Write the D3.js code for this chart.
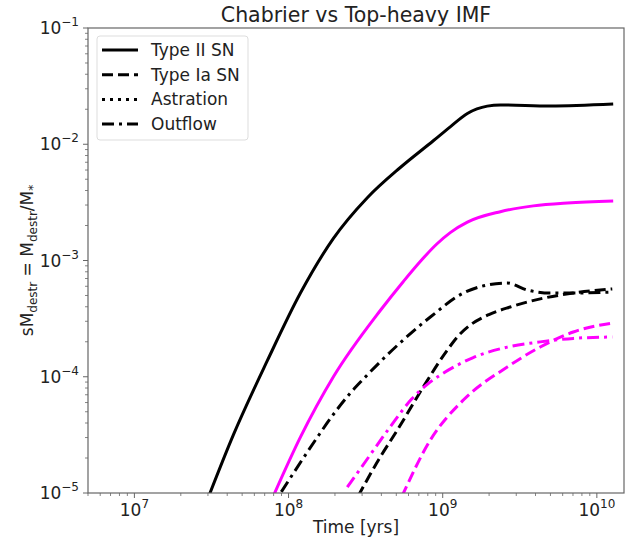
<!DOCTYPE html>
<html>
<head>
<meta charset="utf-8">
<script src="https://cdn.jsdelivr.net/npm/d3@7"></script>
<style>
  body { margin: 0; background: #fff; }
  text { font-family: "DejaVu Sans", sans-serif; fill: #222; }
</style>
</head>
<body>
<div id="chart"></div>
<script>
// Values, as log10(time in yrs) and log10(sM_destr)
const typeIIChabT = [7.47, 7.642, 7.863, 8.077, 8.291, 8.511, 8.725, 8.939, 9.049, 9.160, 9.289, 9.374, 9.698, 10.106];
const typeIIChabV = [-5.07, -4.50, -3.86, -3.28, -2.81, -2.46, -2.20, -1.97, -1.85, -1.735, -1.672, -1.662, -1.671, -1.654];

const typeIITopT = [7.90, 8.077, 8.291, 8.595, 8.745, 8.860, 8.960, 9.049, 9.160, 9.374, 9.588, 9.808, 10.106];
const typeIITopV = [-5.03, -4.52, -4.00, -3.43, -3.18, -3.00, -2.86, -2.76, -2.67, -2.58, -2.53, -2.505, -2.488];

const typeIaChabT = [8.45, 8.595, 8.706, 8.874, 9.030, 9.100, 9.179, 9.300, 9.438, 9.633, 9.847, 10.100];
const typeIaChabV = [-5.03, -4.690, -4.458, -4.088, -3.77, -3.65, -3.555, -3.465, -3.40, -3.33, -3.28, -3.245];

const typeIaTopT = [8.735, 8.920, 9.134, 9.419, 9.633, 9.847, 10.100];
const typeIaTopV = [-5.03, -4.544, -4.200, -3.916, -3.744, -3.615, -3.538];

const outflowChabT = [7.953, 8.187, 8.271, 8.401, 8.485, 8.706, 8.920, 9.134, 9.289, 9.419, 9.549, 9.698, 9.847, 10.100];
const outflowChabV = [-4.99, -4.52, -4.36, -4.14, -4.02, -3.73, -3.486, -3.280, -3.211, -3.194, -3.254, -3.280, -3.280, -3.271];

const outflowTopT = [8.381, 8.52, 8.66, 8.80, 8.90, 8.985, 9.095, 9.198, 9.419, 9.633, 9.847, 10.100];
const outflowTopV = [-4.95, -4.69, -4.43, -4.19, -4.065, -3.985, -3.90, -3.835, -3.745, -3.70, -3.67, -3.658];

const legendLabels = ["Type II SN", "Type Ia SN", "Astration", "Outflow"];
const yTickExps = [-1, -2, -3, -4, -5];
const xTickExps = [7, 8, 9, 10];

const width = 640, height = 547;
const margin = {left: 88, top: 28, right: 16, bottom: 54};
const iw = width - margin.left - margin.right;
const ih = height - margin.top - margin.bottom;

const dashes = {solid: null, dashed: "11,5", dotted: "3,5", dashdot: "12,5,3,5"};

const series = [
  {t: typeIIChabT, v: typeIIChabV, color: "#000", dash: "solid"},
  {t: typeIITopT, v: typeIITopV, color: "#ff00ff", dash: "solid"},
  {t: typeIaChabT, v: typeIaChabV, color: "#000", dash: "dashed"},
  {t: typeIaTopT, v: typeIaTopV, color: "#ff00ff", dash: "dashed"},
  {t: outflowChabT, v: outflowChabV, color: "#000", dash: "dashdot"},
  {t: outflowTopT, v: outflowTopV, color: "#ff00ff", dash: "dashdot"}
];

const x = d3.scaleLog().domain([5e6, 1.5e10]).range([0, iw]);
const y = d3.scaleLog().domain([1e-5, 1e-1]).range([ih, 0]);

const svg = d3.select("#chart").append("svg")
  .attr("width", width)
  .attr("height", height);

svg.append("defs").append("clipPath").attr("id", "clip")
  .append("rect").attr("width", iw).attr("height", ih);

const g = svg.append("g").attr("transform", `translate(${margin.left},${margin.top})`);

// lines
const line = d3.line()
  .x(d => x(d[0]))
  .y(d => y(d[1]))
  .curve(d3.curveMonotoneX);

const lines = g.append("g").attr("clip-path", "url(#clip)");
series.forEach(s => {
  const pts = s.t.map((t, i) => [Math.pow(10, t), Math.pow(10, s.v[i])]);
  lines.append("path")
    .datum(pts)
    .attr("d", line)
    .attr("fill", "none")
    .attr("stroke", s.color)
    .attr("stroke-width", 3)
    .attr("stroke-dasharray", dashes[s.dash]);
});

// frame
g.append("rect")
  .attr("width", iw).attr("height", ih)
  .attr("fill", "none").attr("stroke", "#666").attr("stroke-width", 1.2);

// ticks
const axisColor = "#666";
const isMajor = d => Math.abs(Math.log10(d) - Math.round(Math.log10(d))) < 1e-6;
const xMinor = x.ticks(20).filter(d => !isMajor(d));
const yMinor = y.ticks(20).filter(d => !isMajor(d));

g.selectAll(".xminor").data(xMinor).enter().append("line")
  .attr("x1", d => x(d)).attr("x2", d => x(d))
  .attr("y1", ih).attr("y2", ih + 3)
  .attr("stroke", axisColor).attr("stroke-width", 0.8);
g.selectAll(".yminor").data(yMinor).enter().append("line")
  .attr("x1", -3).attr("x2", 0)
  .attr("y1", d => y(d)).attr("y2", d => y(d))
  .attr("stroke", axisColor).attr("stroke-width", 0.8);

g.selectAll(".xmajor").data(xTickExps).enter().append("line")
  .attr("x1", d => x(Math.pow(10, d))).attr("x2", d => x(Math.pow(10, d)))
  .attr("y1", ih).attr("y2", ih + 5)
  .attr("stroke", axisColor).attr("stroke-width", 1);
g.selectAll(".ymajor").data(yTickExps).enter().append("line")
  .attr("x1", -5).attr("x2", 0)
  .attr("y1", d => y(Math.pow(10, d))).attr("y2", d => y(Math.pow(10, d)))
  .attr("stroke", axisColor).attr("stroke-width", 1);

// tick labels with superscripts
const xl = g.selectAll(".xlab").data(xTickExps).enter().append("text")
  .attr("x", d => x(Math.pow(10, d)))
  .attr("y", ih + 23)
  .attr("text-anchor", "middle")
  .style("font-size", "17px");
xl.append("tspan").text("10");
xl.append("tspan").attr("dy", -8).style("font-size", "12px").text(d => d);

const yl = g.selectAll(".ylab").data(yTickExps).enter().append("text")
  .attr("x", -9)
  .attr("y", d => y(Math.pow(10, d)) + 6)
  .attr("text-anchor", "end")
  .style("font-size", "17px");
yl.append("tspan").text("10");
yl.append("tspan").attr("dy", -8).style("font-size", "12px").text(d => "\u2212" + Math.abs(d));

// title and axis labels
svg.append("text")
  .attr("x", margin.left + iw / 2).attr("y", 22)
  .attr("text-anchor", "middle")
  .style("font-size", "20.5px")
  .text("Chabrier vs Top-heavy IMF");

svg.append("text")
  .attr("x", margin.left + iw / 2).attr("y", 533)
  .attr("text-anchor", "middle")
  .style("font-size", "17px")
  .text("Time [yrs]");

const ylab = svg.append("text")
  .attr("transform", `translate(33,${margin.top + ih / 2}) rotate(-90)`)
  .attr("text-anchor", "middle")
  .style("font-size", "17px");
ylab.append("tspan").text("sM");
ylab.append("tspan").attr("dy", 4).style("font-size", "12px").text("destr");
ylab.append("tspan").attr("dy", -4).text(" = M");
ylab.append("tspan").attr("dy", 4).style("font-size", "12px").text("destr");
ylab.append("tspan").attr("dy", -4).text("/M");
ylab.append("tspan").attr("dy", 4).style("font-size", "12px").text("*");

// legend
const legendDash = ["solid", "dashed", "dotted", "dashdot"];
const lg = svg.append("g").attr("transform", "translate(97,36)");
lg.append("rect")
  .attr("width", 151).attr("height", 104)
  .attr("rx", 3)
  .attr("fill", "#fff").attr("stroke", "#ddd");
const items = lg.selectAll(".item").data(legendLabels).enter().append("g")
  .attr("transform", (d, i) => `translate(0,${14 + i * 24.7})`);
items.append("line")
  .attr("x1", 5).attr("x2", 41)
  .attr("stroke", "#000").attr("stroke-width", 3)
  .attr("stroke-dasharray", (d, i) => dashes[legendDash[i]]);
items.append("text")
  .attr("x", 54).attr("y", 6)
  .style("font-size", "17px")
  .text(d => d);
</script>
</body>
</html>
